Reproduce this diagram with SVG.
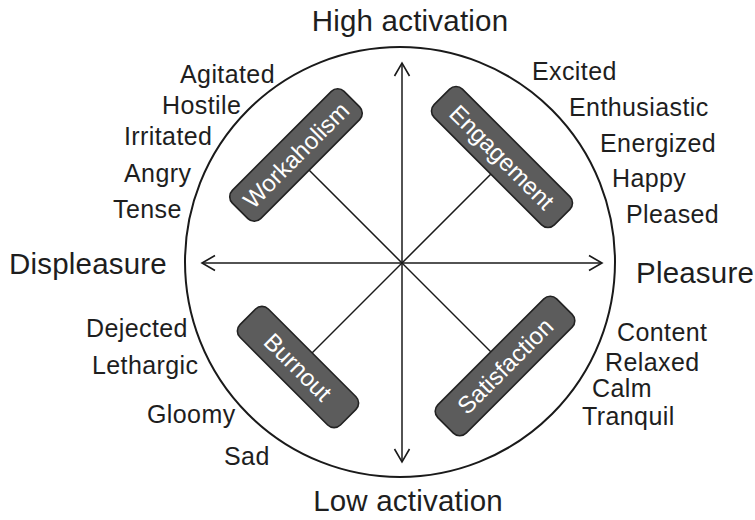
<svg xmlns="http://www.w3.org/2000/svg" width="755" height="520" viewBox="0 0 755 520">
<defs>
<marker id="ah" viewBox="-15 -9 17 18" markerWidth="17" markerHeight="18" refX="0" refY="0" orient="auto" markerUnits="userSpaceOnUse">
<path d="M-13,-7.5 L0,0 L-13,7.5" fill="none" stroke="#1a1a1a" stroke-width="1.6"/>
</marker>
</defs>
<style>
.w{font-family:"Liberation Sans",Arial,sans-serif;font-size:25px;letter-spacing:0.4px;fill:#1e1e1e}
.big{font-family:"Liberation Sans",Arial,sans-serif;font-size:29.5px;letter-spacing:0.2px;fill:#1e1e1e}
.box rect{fill:#5c5c5c;stroke:#222222;stroke-width:1.6}
.box text{font-family:"Liberation Sans",Arial,sans-serif;font-size:24px;fill:#ffffff;text-anchor:middle}
.ln{stroke:#1a1a1a;stroke-width:1.5;fill:none}
</style>
<rect width="755" height="520" fill="#ffffff"/>
<circle cx="400" cy="262" r="215" fill="none" stroke="#1a1a1a" stroke-width="2"/>
<g id="connectors">
<line class="ln" x1="402" y1="263" x2="402" y2="63" marker-end="url(#ah)"/>
<line class="ln" x1="402" y1="263" x2="402" y2="462" marker-end="url(#ah)"/>
<line class="ln" x1="402" y1="263" x2="202" y2="263" marker-end="url(#ah)"/>
<line class="ln" x1="402" y1="263" x2="602" y2="263" marker-end="url(#ah)"/>
<line class="ln" x1="402" y1="263" x2="309" y2="170"/>
<line class="ln" x1="402" y1="263" x2="491" y2="174"/>
<line class="ln" x1="402" y1="263" x2="312" y2="353"/>
<line class="ln" x1="402" y1="263" x2="491" y2="352"/>
</g>
<g id="workaholism" class="box" transform="translate(296,155) rotate(-45)">
<rect x="-79" y="-20" width="158" height="40" rx="9"/>
<text x="0" y="8.5">Workaholism</text>
</g>
<g id="engagement" class="box" transform="translate(502,157) rotate(45)">
<rect x="-85" y="-20" width="170" height="40" rx="9"/>
<text x="0" y="8.5">Engagement</text>
</g>
<g id="burnout" class="box" transform="translate(298,367) rotate(45)">
<rect x="-71" y="-20" width="142" height="40" rx="9"/>
<text x="0" y="8.5">Burnout</text>
</g>
<g id="satisfaction" class="box" transform="translate(505,366) rotate(-45)">
<rect x="-84" y="-20" width="168" height="40" rx="9"/>
<text x="0" y="8.5">Satisfaction</text>
</g>
<g id="axis-labels">
<text class="big" x="410" y="31" text-anchor="middle">High activation</text>
<text class="big" x="408" y="511" text-anchor="middle">Low activation</text>
<text class="big" x="9" y="274">Displeasure</text>
<text class="big" x="636" y="283">Pleasure</text>
</g>
<g id="words">
<text class="w" x="180" y="83">Agitated</text>
<text class="w" x="162" y="114">Hostile</text>
<text class="w" x="124" y="145">Irritated</text>
<text class="w" x="124" y="182">Angry</text>
<text class="w" x="113" y="218">Tense</text>
<text class="w" x="86" y="337">Dejected</text>
<text class="w" x="92" y="374">Lethargic</text>
<text class="w" x="147" y="423">Gloomy</text>
<text class="w" x="224" y="465">Sad</text>
<text class="w" x="532" y="80">Excited</text>
<text class="w" x="569" y="116">Enthusiastic</text>
<text class="w" x="600" y="152">Energized</text>
<text class="w" x="612" y="187">Happy</text>
<text class="w" x="626" y="223">Pleased</text>
<text class="w" x="617" y="341">Content</text>
<text class="w" x="605" y="371">Relaxed</text>
<text class="w" x="592" y="397">Calm</text>
<text class="w" x="582" y="425">Tranquil</text>
</g>
</svg>
